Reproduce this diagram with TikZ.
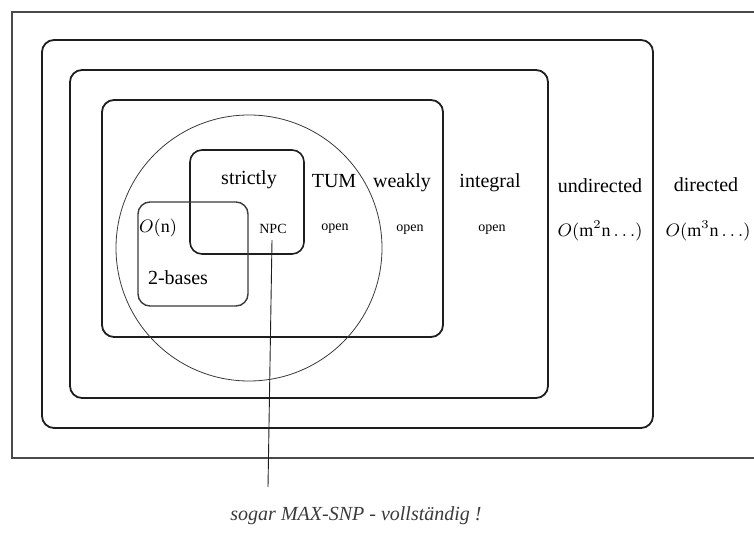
\documentclass[tikz,border=0pt]{standalone}
\usepackage{fontspec}
\setmainfont{Liberation Serif}
\usepackage{amsmath}
\usepackage{xcolor}
\definecolor{ink}{HTML}{1E1E1E}
\definecolor{pencil}{HTML}{3A3A3A}
\definecolor{frameline}{HTML}{4A4A4A}
\tikzset{
  box/.style={draw=ink, line width=0.9pt, rounded corners=6pt},
  frame/.style={draw=frameline, line width=0.9pt},
  ring/.style={draw=pencil, line width=0.4pt},
  pointer/.style={draw=ink, line width=0.45pt},
  cls/.style={font=\normalsize, inner sep=1pt},
  res/.style={font=\scriptsize, inner sep=1pt},
  cplx/.style={font=\small, inner sep=1pt},
  note/.style={font=\normalsize\itshape, text=pencil, inner sep=1pt},
}

\begin{document}
\begin{tikzpicture}[x=0.5pt, y=-0.5pt]

  \useasboundingbox (0,0) rectangle (754,539);

  % open frame on the right
  \draw[frame] (754,12) -- (12,12) -- (12,458) -- (754,458);

  % nested classes
  \draw[box] (42,40) rectangle (653,428);
  \draw[box] (70,70) rectangle (548,398);
  \draw[box] (102,100) rectangle (443,337);
  \draw[ring] (249,248) circle (133);
  \draw[box, line width=0.8pt] (190,150) rectangle (304,254);
  \draw[box, line width=0.7pt, draw=pencil] (138,202) rectangle (248,306);

  % class names
  \node[cls] (strict) at (249,180) {strictly};
  \node[cls] (tum)    at (334,181) {TUM};
  \node[cls] (weak)   at (402,183) {weakly};
  \node[cls] (integ)  at (490,183) {integral};
  \node[cls] (undir)  at (600,186) {undirected};
  \node[cls] (dir)    at (706,185) {directed};

  % results
  \node[cplx] (lin)    at (158,228) {$O(\mathrm{n})$};
  \node[res]  (npc)    at (273,229) {NPC};
  \node[res]  (opent)  at (335,229) {open};
  \node[res]  (openw)  at (410,230) {open};
  \node[res]  (openi)  at (492,230) {open};
  \node[cplx] (cundir) at (600,231) {$O(\mathrm{m}^2\mathrm{n}\ldots)$};
  \node[cplx] (cdir)   at (708,231) {$O(\mathrm{m}^3\mathrm{n}\ldots)$};
  \node[cls]  (bases)  at (178,278) {2-bases};

  % handwritten remark
  \node[note] (remark) at (356,516) {sogar MAX-SNP - vollst\"andig !};
  \coordinate (tip) at (268,487);
  \draw[pointer] (npc.south) ++(-1,4) -- (tip);

\end{tikzpicture}
\end{document}
